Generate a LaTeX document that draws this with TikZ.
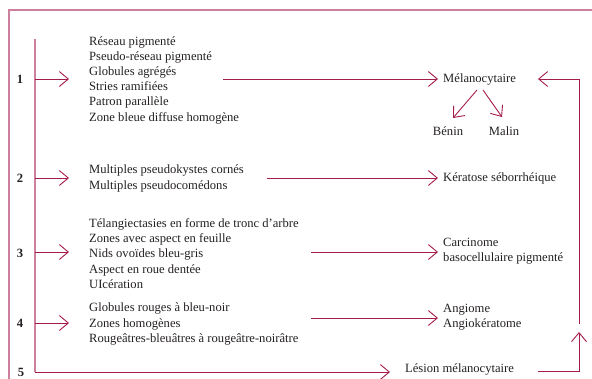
\documentclass[tikz,border=0pt]{standalone}
\usepackage{fontspec}
\setmainfont{Liberation Serif}
\usetikzlibrary{arrows.meta}
\definecolor{framec}{RGB}{204,128,158}
\definecolor{arrc}{RGB}{163,28,74}
\definecolor{txtc}{RGB}{35,31,32}
\begin{document}
\begin{tikzpicture}[x=1pt,y=-1pt,
  framel/.style={draw=framec, line width=1.6pt},
  vline/.style={draw=framec, line width=1.2pt},
  conn/.style={draw=arrc, line width=0.9pt},
  arrw/.style={conn, -{Straight Barb[length=9pt,width=15pt,line width=0.9pt]}},
  txtnode/.style={text=txtc, font=\fontsize{12.6}{15.2}\selectfont, align=left, inner sep=0pt, anchor=west},
  num/.style={text=txtc, font=\fontsize{12.6}{15}\selectfont\bfseries, inner sep=0pt}]
\useasboundingbox (0,0) rectangle (592,378);
% frame
\draw[framel] (9,382) -- (9,10) -- (596,10);
% numbers
\node[num] (n1) at (20,79) {1};
\node[num] (n2) at (20,178) {2};
\node[num] (n3) at (20,253) {3};
\node[num] (n4) at (20,323) {4};
\node[num] (n5) at (21,372) {5};
% spine
\coordinate (top) at (35,39);
\coordinate (corner) at (35,372);
\draw[vline] (top) -- (corner);
% text blocks
\node[txtnode] (L1) at (89,80) {Réseau pigmenté\\Pseudo-réseau pigmenté\\Globules agrégés\\Stries ramifiées\\Patron parallèle\\Zone bleue diffuse homogène};
\node[txtnode] (L2) at (89,178.5) {Multiples pseudokystes cornés\\Multiples pseudocomédons};
\node[txtnode] (L3) at (89,253.5) {Télangiectasies en forme de tronc d’arbre\\Zones avec aspect en feuille\\Nids ovoïdes bleu-gris\\Aspect en roue dentée\\UIcération};
\node[txtnode] (L4) at (89,324) {Globules rouges à bleu-noir\\Zones homogènes\\Rougeâtres-bleuâtres à rougeâtre-noirâtre};
% branch arrows
\coordinate (b1) at (35,79);  \coordinate (t1) at (69,79);
\coordinate (b2) at (35,178); \coordinate (t2) at (69,178);
\coordinate (b3) at (35,252); \coordinate (t3) at (69,252);
\coordinate (b4) at (35,323); \coordinate (t4) at (69,323);
\draw[arrw] (b1) -- (t1);
\draw[arrw] (b2) -- (t2);
\draw[arrw] (b3) -- (t3);
\draw[arrw] (b4) -- (t4);
% targets
\node[txtnode] (mel) at (443,79) {Mélanocytaire};
\node[txtnode, anchor=center] (ben) at (448,131) {Bénin};
\node[txtnode, anchor=center] (mal) at (504,131) {Malin};
\node[txtnode] (ker) at (443,178) {Kératose séborrhéique};
\node[txtnode] (car) at (443,251.5) {Carcinome\\basocellulaire pigmenté};
\node[txtnode] (ang) at (443,317.5) {Angiome\\Angiokératome};
\node[txtnode] (les) at (405,369) {Lésion mélanocytaire};
% right connectors
\coordinate (s1) at (223,79);
\coordinate (s2) at (267,178);
\coordinate (s3) at (311,252);
\coordinate (s4) at (311,318);
\draw[arrw, shorten >=5pt] (s1) -- (mel.west);
\draw[arrw, shorten >=5pt] (s2) -- (ker.west);
\draw[arrw] (s3) -- (438,252);
\draw[arrw] (s4) -- (438,318);
% benin / malin
\coordinate (ma) at (477,90); \coordinate (mat) at (453,118);
\coordinate (mb) at (483,90); \coordinate (mbt) at (502,117);
\draw[arrw] (ma) -- (mat);
\draw[arrw] (mb) -- (mbt);
% bottom row
\coordinate (lest) at (390,372);
\draw[arrw] (corner) -- (lest);
\coordinate (lesr) at (538,371);
\coordinate (upT) at (579,332);
\draw[arrw] (lesr) -| (upT);
\coordinate (upB) at (579,324);
\coordinate (melR) at (538,79);
\draw[arrw] (upB) |- (melR);
\end{tikzpicture}
\end{document}
